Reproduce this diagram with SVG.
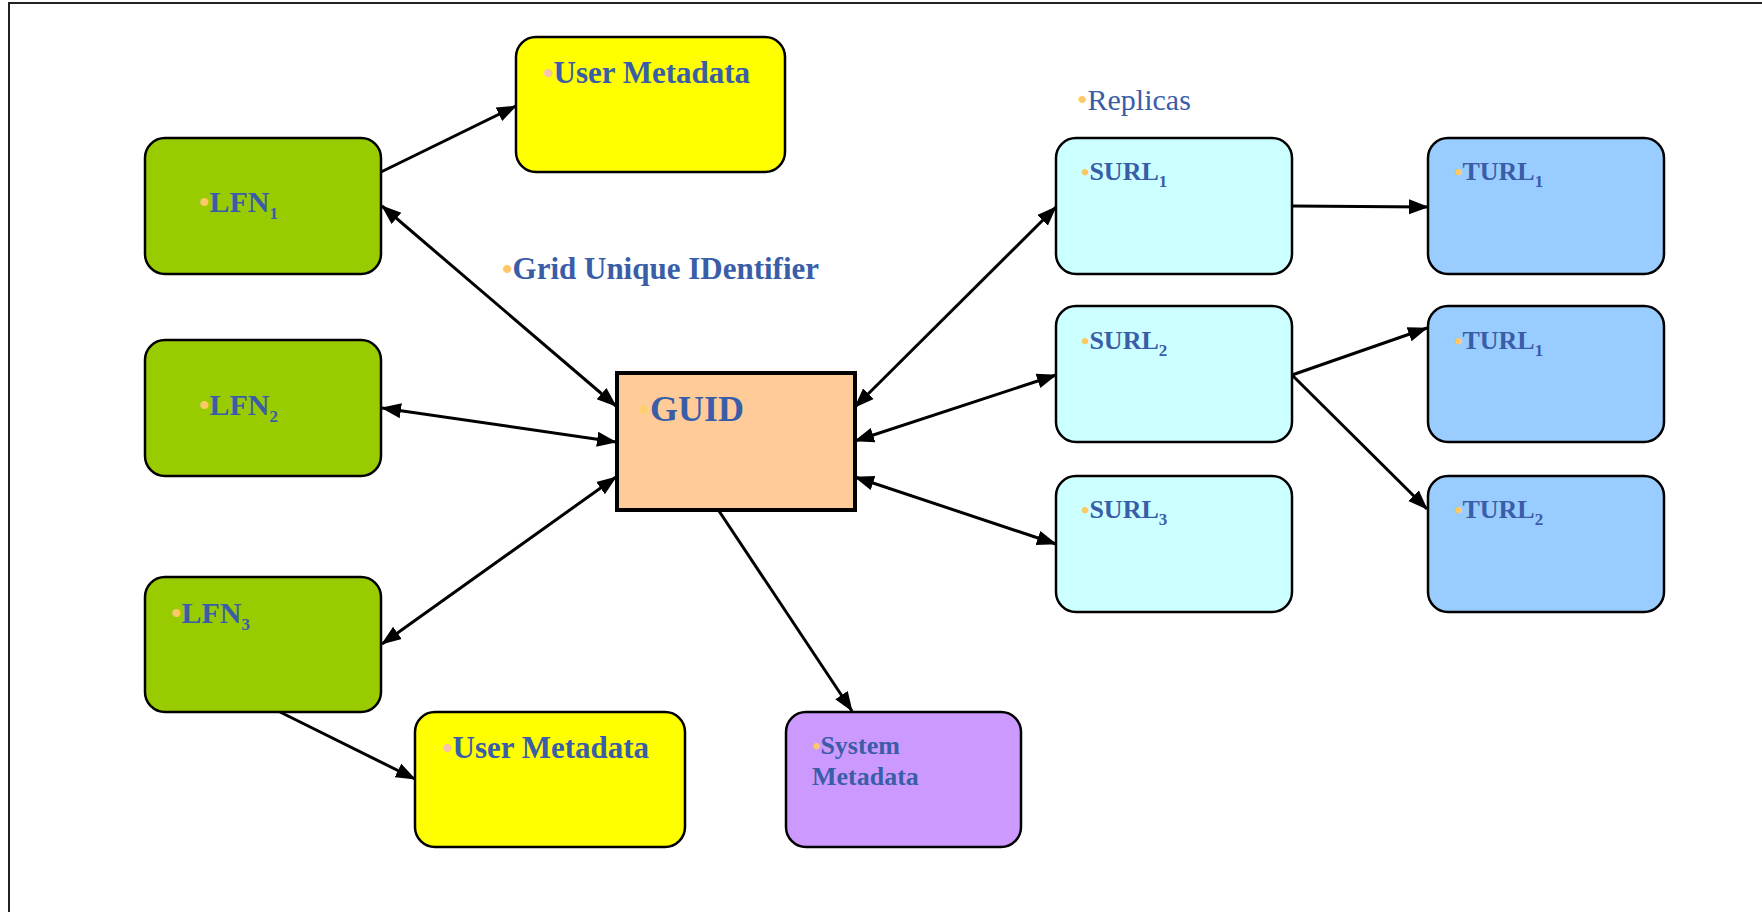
<svg xmlns="http://www.w3.org/2000/svg" width="1762" height="912" viewBox="0 0 1762 912">
<defs>
<marker id="ah" markerUnits="userSpaceOnUse" markerWidth="21" markerHeight="17" viewBox="0 0 21 17" refX="19" refY="8.5" orient="auto-start-reverse">
<path d="M0,1 L20,8.5 L0,16 z" fill="#000"/>
</marker>
<style>
.box{stroke:#000;stroke-width:2.5}
.lfn{fill:#99cc00}
.um{fill:#ffff00}
.sm{fill:#cc99ff}
.surl{fill:#ccffff}
.turl{fill:#99ccff}
.guid{fill:#ffcc99;stroke:#000;stroke-width:4}
.t{font-family:"Liberation Serif","Times New Roman",serif;font-weight:bold;fill:#3a5da8}
.n{font-weight:normal}
.bo{fill:#ffc866}
.bp{fill:#f7c2b0}
.sub{font-size:17px}
.con{stroke:#000;stroke-width:3;fill:none}
.one{marker-end:url(#ah)}
.two{marker-start:url(#ah);marker-end:url(#ah)}
</style>
</defs>
<rect x="0" y="0" width="1762" height="912" fill="#fff"/>
<rect x="9" y="3" width="1800" height="1000" fill="none" stroke="#222" stroke-width="2"/>

<g id="connectors">
<line class="con one" x1="381" y1="172" x2="516" y2="106"/>
<line class="con two" x1="382" y1="206" x2="616" y2="406"/>
<line class="con two" x1="382" y1="408" x2="616" y2="442"/>
<line class="con two" x1="616" y1="477" x2="382" y2="644"/>
<line class="con one" x1="280" y1="712" x2="415" y2="779"/>
<line class="con one" x1="719" y1="511" x2="852" y2="711"/>
<line class="con two" x1="855" y1="407" x2="1056" y2="207"/>
<line class="con two" x1="855" y1="441" x2="1056" y2="375"/>
<line class="con two" x1="855" y1="477" x2="1056" y2="544"/>
<line class="con one" x1="1292" y1="206" x2="1428" y2="207"/>
<line class="con one" x1="1292" y1="375" x2="1427" y2="328"/>
<line class="con one" x1="1292" y1="375" x2="1427" y2="509"/>
</g>

<g id="user-metadata-1">
<rect class="box um" x="516" y="37" width="269" height="135" rx="20"/>
<text class="t" x="543" y="83" font-size="31"><tspan class="bp" font-size="30">•</tspan>User Metadata</text>
</g>

<g id="lfn1">
<rect class="box lfn" x="145" y="138" width="236" height="136" rx="20"/>
<text class="t" x="199" y="212" font-size="30"><tspan class="bo" font-size="30">•</tspan>LFN<tspan class="sub" dy="7">1</tspan></text>
</g>

<g id="lfn2">
<rect class="box lfn" x="145" y="340" width="236" height="136" rx="20"/>
<text class="t" x="199" y="415" font-size="30"><tspan class="bo" font-size="30">•</tspan>LFN<tspan class="sub" dy="7">2</tspan></text>
</g>

<g id="lfn3">
<rect class="box lfn" x="145" y="577" width="236" height="135" rx="20"/>
<text class="t" x="171" y="623" font-size="30"><tspan class="bo" font-size="30">•</tspan>LFN<tspan class="sub" dy="7">3</tspan></text>
</g>

<g id="user-metadata-2">
<rect class="box um" x="415" y="712" width="270" height="135" rx="20"/>
<text class="t" x="442" y="758" font-size="31"><tspan class="bp" font-size="30">•</tspan>User Metadata</text>
</g>

<g id="system-metadata">
<rect class="box sm" x="786" y="712" width="235" height="135" rx="20"/>
<text class="t" x="812" y="754" font-size="26"><tspan class="bo" font-size="24">•</tspan>System</text>
<text class="t" x="812" y="785" font-size="26">Metadata</text>
</g>

<g id="guid">
<rect class="guid" x="617" y="373" width="238" height="137"/>
<text class="t" x="638" y="421" font-size="36"><tspan fill="#ffd070" font-size="34">•</tspan>GUID</text>
</g>

<g id="guid-label">
<text class="t" x="502" y="279" font-size="31"><tspan class="bo" font-size="30">•</tspan>Grid Unique IDentifier</text>
</g>

<g id="replicas-label">
<text class="t n" x="1077" y="110" font-size="30"><tspan class="bo" font-size="30">•</tspan>Replicas</text>
</g>

<g id="surl1">
<rect class="box surl" x="1056" y="138" width="236" height="136" rx="20"/>
<text class="t" x="1081" y="180" font-size="26"><tspan class="bo" font-size="24">•</tspan>SURL<tspan class="sub" dy="7">1</tspan></text>
</g>

<g id="surl2">
<rect class="box surl" x="1056" y="306" width="236" height="136" rx="20"/>
<text class="t" x="1081" y="349" font-size="26"><tspan class="bo" font-size="24">•</tspan>SURL<tspan class="sub" dy="7">2</tspan></text>
</g>

<g id="surl3">
<rect class="box surl" x="1056" y="476" width="236" height="136" rx="20"/>
<text class="t" x="1081" y="518" font-size="26"><tspan class="bo" font-size="24">•</tspan>SURL<tspan class="sub" dy="7">3</tspan></text>
</g>

<g id="turl1-a">
<rect class="box turl" x="1428" y="138" width="236" height="136" rx="20"/>
<text class="t" x="1454" y="180" font-size="26"><tspan class="bo" font-size="24">•</tspan>TURL<tspan class="sub" dy="7">1</tspan></text>
</g>

<g id="turl1-b">
<rect class="box turl" x="1428" y="306" width="236" height="136" rx="20"/>
<text class="t" x="1454" y="349" font-size="26"><tspan class="bo" font-size="24">•</tspan>TURL<tspan class="sub" dy="7">1</tspan></text>
</g>

<g id="turl2">
<rect class="box turl" x="1428" y="476" width="236" height="136" rx="20"/>
<text class="t" x="1454" y="518" font-size="26"><tspan class="bo" font-size="24">•</tspan>TURL<tspan class="sub" dy="7">2</tspan></text>
</g>
</svg>
